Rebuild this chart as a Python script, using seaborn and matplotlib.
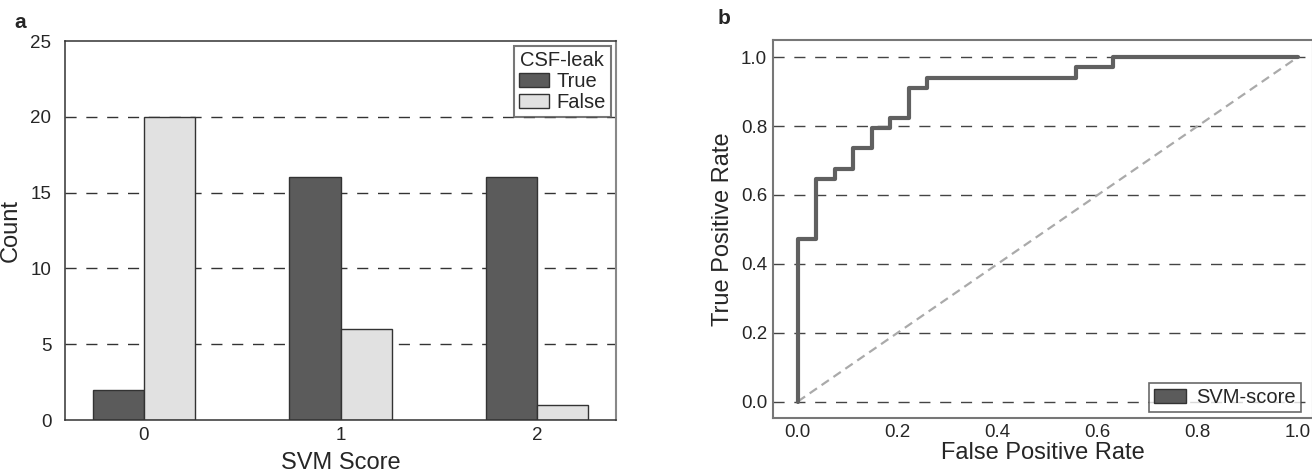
#!/usr/bin/env python

import seaborn as sns
import matplotlib.pyplot as plt
import pandas as pd
import numpy as np
from matplotlib.patches import Patch

# Data
svm_scores = ["0", "1", "2"]
leak_true = [2, 16, 16]
leak_false = [20, 6, 1]

# ROC vertices (27 negatives, 34 positives)
roc_fpr = [0.0, 0.0, 0.037, 0.037, 0.074, 0.074, 0.111, 0.111, 0.148, 0.148,
           0.185, 0.185, 0.222, 0.222, 0.259, 0.259, 0.556, 0.556, 0.630, 0.630, 1.0]
roc_tpr = [0.0, 0.471, 0.471, 0.647, 0.647, 0.676, 0.676, 0.735, 0.735, 0.794,
           0.794, 0.824, 0.824, 0.912, 0.912, 0.941, 0.941, 0.971, 0.971, 1.0, 1.0]
chance = [0.0, 1.0]

sns.set_style("white")
plt.rcParams["font.family"] = ["Liberation Sans", "DejaVu Sans"]

counts = pd.DataFrame({
    "SVM Score": svm_scores * 2,
    "Count": leak_true + leak_false,
    "CSF-leak": ["True"] * 3 + ["False"] * 3,
})

fig = plt.figure(figsize=(13.12, 4.74), dpi=100)
ax1 = fig.add_axes([0.0498, 0.1139, 0.4195, 0.7996])
ax2 = fig.add_axes([0.589, 0.118, 0.4115, 0.7976])

dash_grid = (0, (8, 7))
label_fs = 17
tick_fs = 13.5

# Panel a: bar chart
sns.barplot(data=counts, x="SVM Score", y="Count", hue="CSF-leak",
            order=svm_scores, hue_order=["True", "False"],
            palette={"True": "#5b5b5b", "False": "#e1e1e1"},
            width=0.52, edgecolor="#333333", linewidth=1, ax=ax1, zorder=2)
ax1.set_xlim(-0.4, 2.4)
ax1.set_ylim(0, 25)
ax1.set_yticks([0, 5, 10, 15, 20, 25])
ax1.yaxis.grid(True, color="#333333", linestyle=dash_grid, linewidth=1)
ax1.get_ygridlines()[-1].set_visible(False)
ax1.get_ygridlines()[0].set_visible(False)
ax1.set_axisbelow(True)
ax1.set_xlabel("SVM Score", fontsize=label_fs, labelpad=6)
ax1.set_ylabel("Count", fontsize=label_fs, labelpad=6)
ax1.tick_params(axis="both", length=0, labelsize=tick_fs)
ax1.tick_params(axis="y", pad=10)
ax1.tick_params(axis="x", pad=5)
for s in ax1.spines.values():
    s.set_color("#333333")
    s.set_linewidth(1.1)
ax1.spines["right"].set_color("#888888")
ax1.spines["right"].set_linewidth(1.5)
leg1 = ax1.legend(title="CSF-leak", loc="upper right", fontsize=14.5,
                  title_fontsize=14.5, frameon=True, fancybox=False,
                  edgecolor="#555555", borderaxespad=0.25, handlelength=1.5,
                  handleheight=0.7, labelspacing=0.1, borderpad=0.25,
                  handletextpad=0.35)
leg1.get_frame().set_linewidth(1.5)

# Panel b: ROC curve
sns.lineplot(x=roc_fpr, y=roc_tpr, sort=False, estimator=None,
             color="#606060", linewidth=3, ax=ax2, zorder=3)
sns.lineplot(x=chance, y=chance, sort=False, estimator=None,
             color="#aaaaaa", linewidth=1.6, linestyle=(0, (4, 2.5)), ax=ax2, zorder=2)
ax2.set_xlim(-0.05, 1.03)
ax2.set_ylim(-0.048, 1.05)
ax2.set_xticks([0.0, 0.2, 0.4, 0.6, 0.8, 1.0])
ax2.set_yticks([0.0, 0.2, 0.4, 0.6, 0.8, 1.0])
ax2.set_xticklabels(["0.0", "0.2", "0.4", "0.6", "0.8", "1.0"])
ax2.set_yticklabels(["0.0", "0.2", "0.4", "0.6", "0.8", "1.0"])
ax2.yaxis.grid(True, color="#444444", linestyle=dash_grid, linewidth=1)
ax2.set_axisbelow(True)
ax2.set_xlabel("False Positive Rate", fontsize=label_fs, labelpad=1)
ax2.set_ylabel("True Positive Rate", fontsize=label_fs, labelpad=5)
ax2.tick_params(axis="both", length=0, labelsize=tick_fs)
ax2.tick_params(axis="y", pad=4)
ax2.tick_params(axis="x", pad=4)
for s in ax2.spines.values():
    s.set_color("#777777")
    s.set_linewidth(1.5)
leg2 = ax2.legend(handles=[Patch(facecolor="#5b5b5b", edgecolor="#333333", label="SVM-score")],
                  loc="lower right", fontsize=14.5, frameon=True, fancybox=False,
                  edgecolor="#444444", borderaxespad=0.3, handlelength=1.6,
                  handleheight=0.7, borderpad=0.25, handletextpad=0.5,
                  bbox_to_anchor=(0.99, 0.0))
leg2.get_frame().set_linewidth(1.2)

fig.text(0.011, 0.94, "a", fontsize=15, fontweight="bold")
fig.text(0.547, 0.95, "b", fontsize=15, fontweight="bold")

fig.savefig("out.png", dpi=100)
